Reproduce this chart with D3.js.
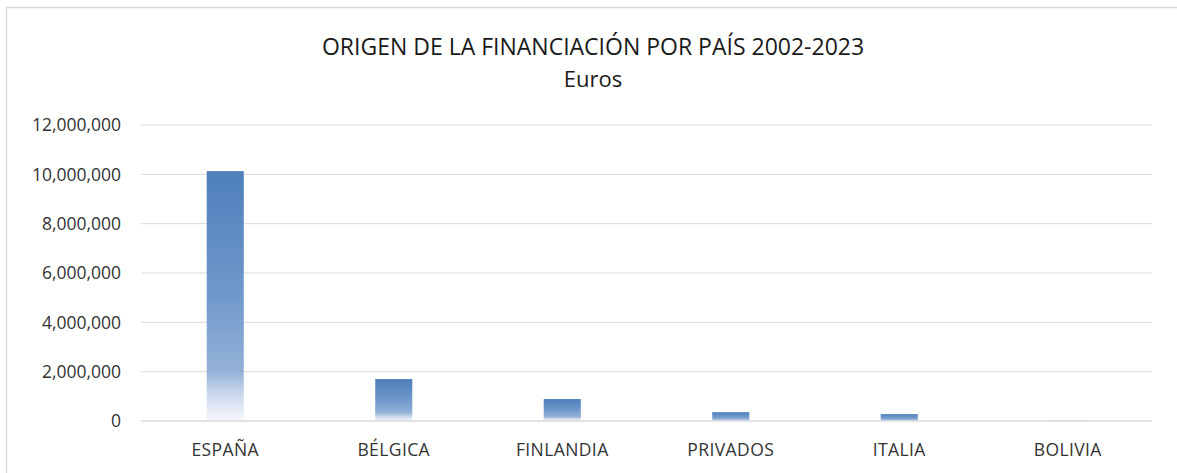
<!DOCTYPE html>
<html>
<head>
<meta charset="utf-8">
<script src="https://cdn.jsdelivr.net/npm/d3@7"></script>
<style>
  body { margin: 0; background: #fff; }
  svg { display: block; font-family: "Open Sans", "Noto Sans", sans-serif; }
</style>
</head>
<body>
<svg id="chart" width="1177" height="473"></svg>
<script>
// data
var paises = ["ESPAÑA", "BÉLGICA", "FINLANDIA", "PRIVADOS", "ITALIA", "BOLIVIA"];
var montos = [10130000, 1700000, 890000, 360000, 280000, 8000];
var ticksY = [0, 2000000, 4000000, 6000000, 8000000, 10000000, 12000000];

var svg = d3.select("#chart"),
    width = +svg.attr("width"),
    height = +svg.attr("height");

var plotLeft = 141, plotRight = 1152;

// chart frame (runs past the right/bottom edge like the source)
svg.append("rect")
  .attr("x", 6.5).attr("y", 7.5)
  .attr("width", width + 10).attr("height", height + 10)
  .attr("fill", "none")
  .attr("stroke", "#d9d9d9")
  .attr("stroke-width", 1.5);

var defs = svg.append("defs");
var grad = defs.append("linearGradient")
  .attr("id", "barGrad")
  .attr("x1", 0).attr("y1", 0).attr("x2", 0).attr("y2", 1);
[[0, "#4e7fbc"], [0.5, "#7099cb"], [0.8, "#93b0d8"], [0.88, "#c5d4ea"], [1, "#f6f8fc"]].forEach(function(s) {
  grad.append("stop").attr("offset", s[0]).attr("stop-color", s[1]);
});

var x = d3.scaleBand()
  .domain(paises)
  .range([plotLeft, plotRight])
  .paddingInner(0.78)
  .paddingOuter(0.39);

var y = d3.scaleLinear()
  .domain([0, 12000000])
  .range([421, 125]);

// gridlines
svg.append("g")
  .selectAll("line")
  .data(ticksY.filter(function(d) { return d > 0; }))
  .enter().append("line")
  .attr("x1", plotLeft).attr("x2", plotRight)
  .attr("y1", function(d) { return y(d); })
  .attr("y2", function(d) { return y(d); })
  .attr("stroke", "#d9d9d9")
  .attr("stroke-width", 1);

// y tick labels
var fmt = d3.format(",");
svg.append("g")
  .selectAll("text")
  .data(ticksY)
  .enter().append("text")
  .attr("x", 121)
  .attr("y", function(d) { return y(d); })
  .attr("dy", "0.36em")
  .attr("text-anchor", "end")
  .attr("font-size", 17.5)
  .attr("fill", "#333")
  .text(function(d) { return fmt(d); });

// bars
svg.append("g")
  .selectAll("rect")
  .data(montos)
  .enter().append("rect")
  .attr("x", function(d, i) { return x(paises[i]); })
  .attr("width", x.bandwidth())
  .attr("y", function(d) { return y(d); })
  .attr("height", function(d) { return y(0) - y(d); })
  .attr("fill", "url(#barGrad)");

// zero axis line
svg.append("line")
  .attr("x1", plotLeft).attr("x2", plotRight)
  .attr("y1", y(0)).attr("y2", y(0))
  .attr("stroke", "#d9d9d9")
  .attr("stroke-width", 1.5);

// category labels
svg.append("g")
  .selectAll("text")
  .data(paises)
  .enter().append("text")
  .attr("x", function(d) { return x(d) + x.bandwidth() / 2; })
  .attr("y", 456)
  .attr("text-anchor", "middle")
  .attr("font-size", 17.5)
  .attr("letter-spacing", 0.4)
  .attr("fill", "#333")
  .text(function(d) { return d; });

// titles
svg.append("text")
  .attr("x", 593).attr("y", 55)
  .attr("text-anchor", "middle")
  .attr("font-size", 23)
  .attr("fill", "#1a1a1a")
  .text("ORIGEN DE LA FINANCIACIÓN POR PAÍS 2002-2023");
svg.append("text")
  .attr("x", 593).attr("y", 87)
  .attr("text-anchor", "middle")
  .attr("font-size", 22)
  .attr("fill", "#1a1a1a")
  .text("Euros");
</script>
</body>
</html>
